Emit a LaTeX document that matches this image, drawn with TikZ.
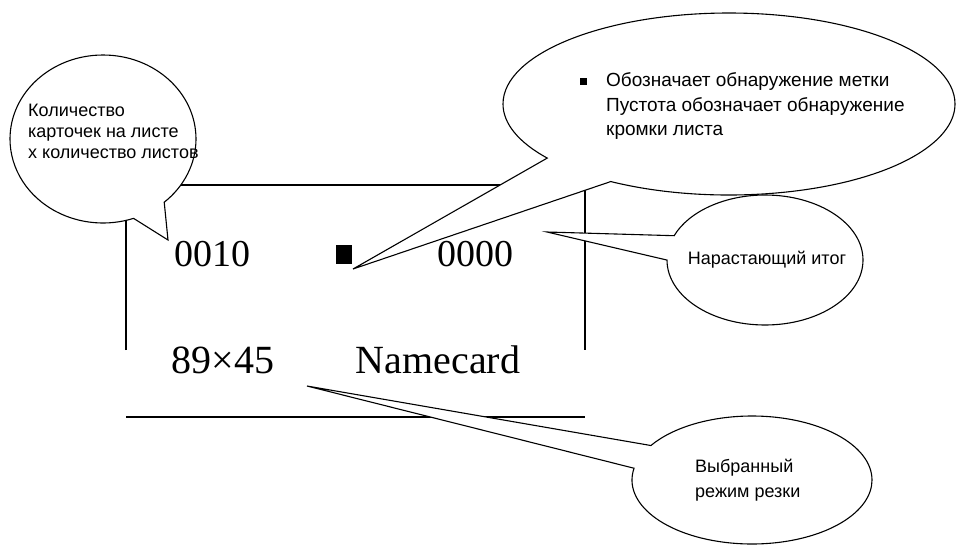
\documentclass[tikz,border=0pt]{standalone}
\usepackage{fontspec}
\newfontfamily\rusfont{Liberation Sans}
\newfontfamily\lcdfont{Liberation Serif}
\usepackage{tikz}
\usetikzlibrary{positioning}
\usetikzlibrary{shapes.callouts}
\tikzset{
bubble/.style={ellipse callout,draw,fill=white,line width=1.1pt,inner sep=0pt,callout pointer arc=22},
note/.style={font=\rusfont\fontsize{18}{21}\selectfont,align=left,inner sep=0pt},
lcd/.style={font=\lcdfont\fontsize{38}{40}\selectfont,inner sep=0pt}
}

\begin{document}
\begin{tikzpicture}[x=1pt,y=-1pt]
\useasboundingbox (0,0) rectangle (958,547);
\draw[line width=1.1pt] (126,350) -- (126,185) -- (585,185) -- (585,350);
\draw[line width=1.1pt] (126,417) -- (585,417);
\node[lcd] (count) at (212,254) {0010};
\node[fill=black,minimum width=16,minimum height=19,inner sep=0pt] (mark) at (344,254) {};
\node[lcd] (total) at (475,254) {0000};
\node[lcd,font=\lcdfont\fontsize{40}{42}\selectfont] (size) at (223,360) {89×45};
\node[lcd,font=\lcdfont\fontsize{40}{42}\selectfont] (mode) at (438,360) {Namecard};
\coordinate (cnttip) at (168,240);
\coordinate (marktip) at (353,269);
\coordinate (totaltip) at (547,232);
\coordinate (modetip) at (307,386);
\node[bubble,minimum width=186,minimum height=168,callout absolute pointer={(cnttip)}] (cntbubble) at (103,139) {};
\node[bubble,minimum width=196,minimum height=130,callout absolute pointer={(totaltip)}] (totalbubble) at (765,260) {};
\node[bubble,minimum width=452,minimum height=182,callout absolute pointer={(marktip)}] (markbubble) at (729,104) {};
\node[bubble,minimum width=240,minimum height=128,callout absolute pointer={(modetip)}] (modebubble) at (752,480) {};
\node[note,anchor=west] (cntlabel) at (28,131) {Количество\\карточек на листе\\х количество листов};
\node[note,font=\rusfont\fontsize{19}{24.5}\selectfont,anchor=west] (marklabel) at (606,106) {Обозначает обнаружение метки\\Пустота обозначает обнаружение\\кромки листа};
\node[fill=black,minimum size=7,inner sep=0pt] (bullet) at (583,81) {};
\node[note] (totallabel) at (767,260) {Нарастающий итог};
\node[note,font=\rusfont\fontsize{18}{25}\selectfont,anchor=west] (modelabel) at (695,480) {Выбранный\\режим резки};
\end{tikzpicture}
\end{document}
